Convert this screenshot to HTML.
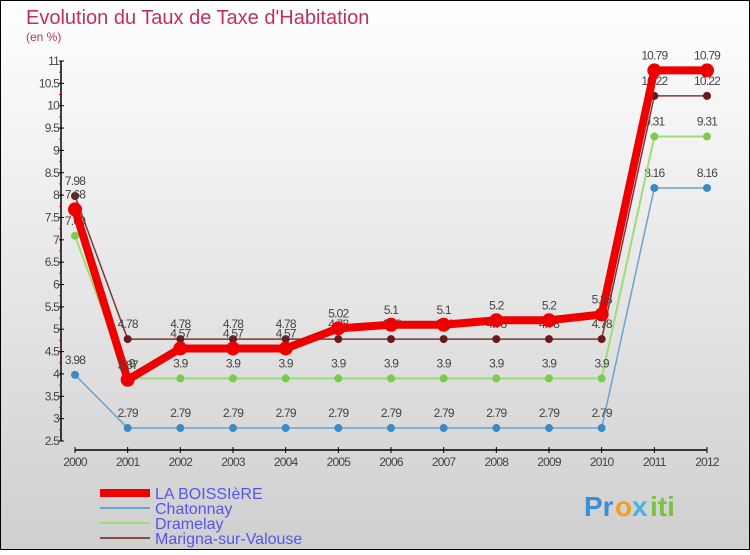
<!DOCTYPE html>
<html><head><meta charset="utf-8"><style>
body{margin:0;width:750px;height:550px;overflow:hidden;font-family:"Liberation Sans",sans-serif}
</style></head><body>
<svg width="750" height="550" xmlns="http://www.w3.org/2000/svg">
<defs><linearGradient id="bg" x1="0" y1="0" x2="0" y2="1"><stop offset="0" stop-color="#ffffff"/><stop offset="1" stop-color="#cfcfcf"/></linearGradient></defs>
<rect x="0.5" y="0.5" width="749" height="549" fill="url(#bg)" stroke="#000"/>
<text x="26" y="24" font-size="20" fill="#c0305e">Evolution du Taux de Taxe d'Habitation</text>
<text x="26" y="41" font-size="12" fill="#c0305e">(en %)</text>
<g id="axes"></g>
<g id="series"></g>
<g font-size="16" fill="#5555ee">
<line x1="100" y1="493" x2="150" y2="493" stroke="#e00" stroke-width="8"/>
<text x="155" y="499">LA BOISSIèRE</text>
<line x1="100" y1="508" x2="150" y2="508" stroke="#6aa3d0" stroke-width="2"/>
<text x="155" y="514">Chatonnay</text>
<line x1="100" y1="523" x2="150" y2="523" stroke="#9edc7a" stroke-width="2"/>
<text x="155" y="529">Dramelay</text>
<line x1="100" y1="538" x2="150" y2="538" stroke="#8a4a4a" stroke-width="2"/>
<text x="155" y="544">Marigna-sur-Valouse</text>
</g>
<g font-size="28" font-weight="bold">
<text x="584" y="516" fill="#3a8fd8">Pr</text><text x="615" y="516" fill="#f0a020">o</text><text x="632" y="516" fill="#4ab0e0">x</text><text x="650" y="516" fill="#7cc040">iti</text>
</g>
</svg>
<script>
const years=[2000,2001,2002,2003,2004,2005,2006,2007,2008,2009,2010,2011,2012];
const yTicks=[2.5,3,3.5,4,4.5,5,5.5,6,6.5,7,7.5,8,8.5,9,9.5,10,10.5,11];
const laBoissiere=[7.68,3.87,4.57,4.57,4.57,5.02,5.1,5.1,5.2,5.2,5.33,10.79,10.79];
const chatonnay=[3.98,2.79,2.79,2.79,2.79,2.79,2.79,2.79,2.79,2.79,2.79,8.16,8.16];
const dramelay=[7.09,3.9,3.9,3.9,3.9,3.9,3.9,3.9,3.9,3.9,3.9,9.31,9.31];
const marigna=[7.98,4.78,4.78,4.78,4.78,4.78,4.78,4.78,4.78,4.78,4.78,10.22,10.22];
const NS="http://www.w3.org/2000/svg";
const x=i=>75+i*(632/12);
const y=v=>441-(v-2.5)*(380/8.5);
function mk(t,a,p){const e=document.createElementNS(NS,t);for(const k in a)e.setAttribute(k,a[k]);p.appendChild(e);return e;}
const ax=document.getElementById('axes');
let l=mk('line',{x1:61,y1:y(11),x2:61,y2:y(2.5),stroke:'#000','stroke-width':1.5},ax);


l=mk('line',{x1:75,y1:450,x2:707,y2:450,stroke:'#000','stroke-width':1.5},ax);


yTicks.forEach(v=>{
  mk('line',{x1:59,y1:y(v),x2:64,y2:y(v),stroke:'#000'},ax);
  if(v<11) mk('line',{x1:59,y1:y(v+0.25),x2:62,y2:y(v+0.25),stroke:'#e00'},ax);
  const t=mk('text',{x:59,y:y(v)+4,'font-size':12,fill:'#444','text-anchor':'end','letter-spacing':'-0.8'},ax);
  t.textContent=String(v);
  
  
});
years.forEach((yr,i)=>{
  mk('line',{x1:x(i),y1:447,x2:x(i),y2:453,stroke:'#000'},ax);
  const t=mk('text',{x:x(i),y:466,'font-size':12,fill:'#444','text-anchor':'middle','letter-spacing':'-0.8'},ax);
  t.textContent=String(yr);
  
  
});
const sg=document.getElementById('series');
function series(vals,name,col,lw,r,dot){
  const g=mk('g',{},sg);
  
  
  const pl=mk('polyline',{points:vals.map((v,i)=>x(i)+','+y(v)).join(' '),fill:'none',stroke:col,'stroke-width':lw,'stroke-linejoin':'round'},g);
  
  
  vals.forEach((v,i)=>{
    const c=mk('circle',{cx:x(i),cy:y(v),r:r,fill:dot},g);
    
    
    const t=mk('text',{x:x(i),y:y(v)-11,'font-size':12,fill:'#444','text-anchor':'middle','letter-spacing':'-0.8'},g);
    t.textContent=String(v);
    
    
  });
}
series(chatonnay,'chatonnay','#6aa3d0',1.5,4,'#3a8ac8');
series(dramelay,'dramelay','#9edc7a',2,4,'#7acc4a');
series(marigna,'marigna','#7a3a3a',1.5,4,'#6a1a1a');
series(laBoissiere,'la-boissiere','#ee0000',8,7,'#ee0000');
</script>
</body></html>
